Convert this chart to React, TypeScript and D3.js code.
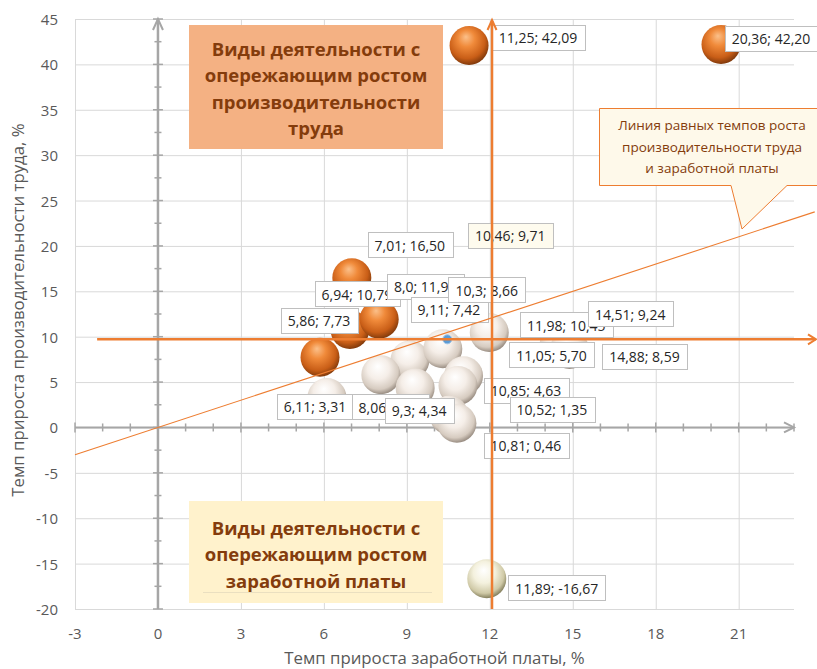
import React, { useEffect, useRef } from "react";
import * as d3 from "d3";

// ---- data ----
const wageGrowth = [11.25, 20.36, 7.01, 6.94, 8.0, 5.86, 9.11, 10.3, 11.98, 14.51, 11.05, 14.88, 10.85, 10.52, 10.81, 6.11, 8.06, 9.3, 11.89];
const productivityGrowth = [42.09, 42.2, 16.5, 10.79, 11.92, 7.73, 7.42, 8.66, 10.45, 9.24, 5.7, 8.59, 4.63, 1.35, 0.46, 3.31, 5.8, 4.34, -16.67];
const pointLabels = [
  "11,25; 42,09", "20,36; 42,20", "7,01; 16,50", "6,94; 10,79", "8,0; 11,92", "5,86; 7,73",
  "9,11; 7,42", "10,3; 8,66", "11,98; 10,45", "14,51; 9,24", "11,05; 5,70", "14,88; 8,59",
  "10,85; 4,63", "10,52; 1,35", "10,81; 0,46", "6,11; 3,31", "8,06; 5,80", "9,3; 4,34", "11,89; -16,67",
];
// label placement relative to each point (layout, px)
const labelOffsets: [number, number][] = [
  [69, -8], [50, -6], [58, -33], [7, -36], [46, -33], [-1, -37],
  [39, -51], [44, -59], [77, -8], [71, -30], [88, -21], [75, 7],
  [68, 5], [103, -6], [69, 22], [-12, 9], [9, 32], [4, 22], [70, 9],
];
const meanLabelOffset: [number, number] = [63, -104];
const referenceWage = 12.08;
const xTicks = [-3, 0, 3, 6, 9, 12, 15, 18, 21];
const yTicks = [-20, -15, -10, -5, 0, 5, 10, 15, 20, 25, 30, 35, 40, 45];
const xTitle = "Темп прироста заработной платы, %";
const yTitle = "Темп прироста производительности труда, %";
const topBoxLines = ["Виды деятельности с", "опережающим ростом", "производительности", "труда"];
const bottomBoxLines = ["Виды деятельности с", "опережающим ростом", "заработной платы"];
const calloutLines = ["Линия равных темпов роста", "производительности труда", "и заработной платы"];

const FONT = "'Open Sans', 'Noto Sans', sans-serif";
const ORANGE = "#ed7d31";
const AXIS = "#a6a6a6";

export default function App() {
  const ref = useRef<SVGSVGElement>(null);

  useEffect(() => {
    const svg = d3.select(ref.current);
    svg.selectAll("*").remove();

    const x = d3.scaleLinear().domain([-3, 23]).range([75, 794]);
    const y = d3.scaleLinear().domain([-20, 45]).range([609, 19]);

    // gradients
    const defs = svg.append("defs");
    const mkGrad = (id: string, stops: [number, string][]) => {
      const g = defs.append("radialGradient").attr("id", id)
        .attr("cx", "0.45").attr("cy", "0.4").attr("r", "0.62")
        .attr("fx", "0.42").attr("fy", "0.28");
      stops.forEach(([o, c]) => g.append("stop").attr("offset", o).attr("stop-color", c));
    };
    mkGrad("gOrange", [[0, "#fbc08a"], [0.35, "#f08a3a"], [0.75, "#c95e17"], [1, "#7a360a"]]);
    mkGrad("gWhite", [[0, "#ffffff"], [0.45, "#f5eee8"], [0.8, "#d6cbc0"], [1, "#8f8378"]]);
    mkGrad("gCream", [[0, "#ffffff"], [0.45, "#f4f1de"], [0.8, "#cfc9a6"], [1, "#7a7553"]]);

    // gridlines
    const grid = svg.append("g").attr("stroke", "#d9d9d9").attr("stroke-width", 1);
    yTicks.forEach((t) => {
      grid.append("line").attr("x1", x(-3)).attr("x2", x(23)).attr("y1", y(t) + 0.5).attr("y2", y(t) + 0.5);
    });
    xTicks.forEach((t) => {
      grid.append("line").attr("x1", x(t) + 0.5).attr("x2", x(t) + 0.5).attr("y1", y(45)).attr("y2", y(-20));
    });

    // quadrant boxes
    const topBox = svg.append("g");
    topBox.append("rect").attr("x", 189).attr("y", 25).attr("width", 254).attr("height", 124).attr("fill", "#f4b183");
    topBoxLines.forEach((l, i) =>
      topBox.append("text").attr("x", 316).attr("y", 48 + i * 26.5).attr("text-anchor", "middle")
        .attr("dominant-baseline", "central").attr("font-family", FONT).attr("font-weight", 700)
        .attr("font-size", 18.5).attr("fill", "#843c0c").text(l));
    const botBox = svg.append("g");
    botBox.append("rect").attr("x", 189).attr("y", 501).attr("width", 254).attr("height", 102).attr("fill", "#fff2cc");
    botBox.append("line").attr("x1", 203).attr("x2", 432).attr("y1", 592.5).attr("y2", 592.5).attr("stroke", "#eadfc0").attr("stroke-width", 1);
    bottomBoxLines.forEach((l, i) =>
      botBox.append("text").attr("x", 316).attr("y", 527 + i * 26.5).attr("text-anchor", "middle")
        .attr("dominant-baseline", "central").attr("font-family", FONT).attr("font-weight", 700)
        .attr("font-size", 18.5).attr("fill", "#843c0c").text(l));

    // axes
    const ax = svg.append("g").attr("stroke", AXIS).attr("fill", "none");
    const x0 = x(0), y0 = y(0);
    ax.append("line").attr("x1", x(-3)).attr("x2", x(23)).attr("y1", y0).attr("y2", y0).attr("stroke-width", 2);
    d3.range(-3, 24, 1).forEach((t) => {
      const len = t % 3 === 0 ? 5 : 4;
      ax.append("line").attr("x1", x(t)).attr("x2", x(t)).attr("y1", y0 - len).attr("y2", y0 + len).attr("stroke-width", 1.5);
    });
    ax.append("path").attr("d", `M${x(23) - 10},${y0 - 5}L${x(23)},${y0}L${x(23) - 10},${y0 + 5}`).attr("stroke-width", 2);
    ax.append("line").attr("x1", x0).attr("x2", x0).attr("y1", y(-20)).attr("y2", y(45)).attr("stroke-width", 2.5);
    d3.range(-20, 45.1, 2.5).forEach((t) => {
      const len = t % 5 === 0 ? 5 : 3.5;
      ax.append("line").attr("x1", x0 - len).attr("x2", x0 + len).attr("y1", y(t)).attr("y2", y(t)).attr("stroke-width", 1.5);
    });
    ax.append("path").attr("d", `M${x0 - 5},${y(45) + 11}L${x0},${y(45)}L${x0 + 5},${y(45) + 11}`).attr("stroke-width", 2);

    // tick labels
    const tl = svg.append("g").attr("font-family", FONT).attr("font-size", 15).attr("fill", "#595959");
    yTicks.forEach((t) =>
      tl.append("text").attr("x", 58).attr("y", y(t)).attr("text-anchor", "end").attr("dominant-baseline", "central").text(String(t)));
    xTicks.forEach((t) =>
      tl.append("text").attr("x", x(t)).attr("y", 633).attr("text-anchor", "middle").attr("dominant-baseline", "central").text(String(t)));
    tl.append("text").attr("x", (x(-3) + x(23)) / 2).attr("y", 657).attr("text-anchor", "middle").attr("dominant-baseline", "central")
      .attr("font-size", 16.8).text(xTitle);
    tl.append("text").attr("transform", `translate(17,${(y(45) + y(-20)) / 2 - 4}) rotate(-90)`).attr("text-anchor", "middle").attr("dominant-baseline", "central")
      .attr("font-size", 16.8).text(yTitle);

    // bubbles
    const pts = wageGrowth.map((w, i) => ({ w, p: productivityGrowth[i], label: pointLabels[i], off: labelOffsets[i] }));
    const bub = svg.append("g");
    pts.forEach((d) => {
      const fill = d.p > d.w ? "url(#gOrange)" : d.p < 0 ? "url(#gCream)" : "url(#gWhite)";
      bub.append("circle").attr("cx", x(d.w)).attr("cy", y(d.p)).attr("r", 19.5).attr("fill", fill);
    });

    const meanW = d3.mean(wageGrowth) as number;
    const meanP = d3.mean(productivityGrowth) as number;
    const fmt = (v: number) => v.toFixed(2).replace(".", ",");
    bub.append("circle").attr("cx", x(meanW)).attr("cy", y(meanP)).attr("r", 4.5).attr("fill", "#5b9bd5").attr("stroke", "#9dc3e6").attr("stroke-width", 1);

    // labels
    const lab = svg.append("g");
    const drawLabel = (cx: number, cy: number, text: string, bg: string) => {
      const g = lab.append("g");
      const r = g.append("rect");
      const t = g.append("text").attr("x", cx).attr("y", cy + 0.5).attr("text-anchor", "middle").attr("dominant-baseline", "central")
        .attr("font-family", FONT).attr("font-size", 14).attr("fill", "#262626").text(text);
      const w = (t.node() as SVGTextElement).getComputedTextLength();
      r.attr("x", Math.round(cx - w / 2 - 7) + 0.5).attr("y", Math.round(cy - 12.5) + 0.5).attr("width", Math.round(w + 14)).attr("height", 25)
        .attr("fill", bg).attr("stroke", "#bfbfbf").attr("stroke-width", 1);
    };
    pts.forEach((d) => drawLabel(x(d.w) + d.off[0], y(d.p) + d.off[1], d.label, "#ffffff"));
    drawLabel(x(meanW) + meanLabelOffset[0], y(meanP) + meanLabelOffset[1], `${fmt(meanW)}; ${fmt(meanP)}`, "#fefbee");

    // orange reference lines
    const ol = svg.append("g").attr("stroke", ORANGE).attr("fill", "none");
    const hy = y(meanP);
    ol.append("line").attr("x1", x(-2.2)).attr("x2", 816).attr("y1", hy).attr("y2", hy).attr("stroke-width", 2.5);
    ol.append("path").attr("d", `M808,${hy - 5}L816,${hy}L808,${hy + 5}`).attr("stroke-width", 2);
    const vx = x(referenceWage);
    ol.append("line").attr("x1", vx).attr("x2", vx).attr("y1", y(-20)).attr("y2", 21).attr("stroke-width", 2.5);
    ol.append("path").attr("d", `M${vx - 4.5},30L${vx},20L${vx + 4.5},30`).attr("stroke-width", 2);

    // equal growth line y = x
    ol.append("line").attr("x1", x(-3)).attr("y1", y(-3)).attr("x2", x(23.75)).attr("y2", y(23.75)).attr("stroke-width", 1.1);

    // callout
    const co = svg.append("g");
    co.append("path")
      .attr("d", "M599.5,108.5H826V185.5H787L742,229L731,185.5H599.5Z")
      .attr("fill", "#fef9ea").attr("stroke", ORANGE).attr("stroke-width", 1);
    calloutLines.forEach((l, i) =>
      co.append("text").attr("x", 712).attr("y", 125 + i * 21.5).attr("text-anchor", "middle").attr("dominant-baseline", "central")
        .attr("font-family", FONT).attr("font-size", 13.5).attr("fill", "#843c0c").text(l));
  }, []);

  return (
    <svg ref={ref} width={817} height={669} style={{ position: "absolute", left: 0, top: 0, background: "#fff" }} />
  );
}
